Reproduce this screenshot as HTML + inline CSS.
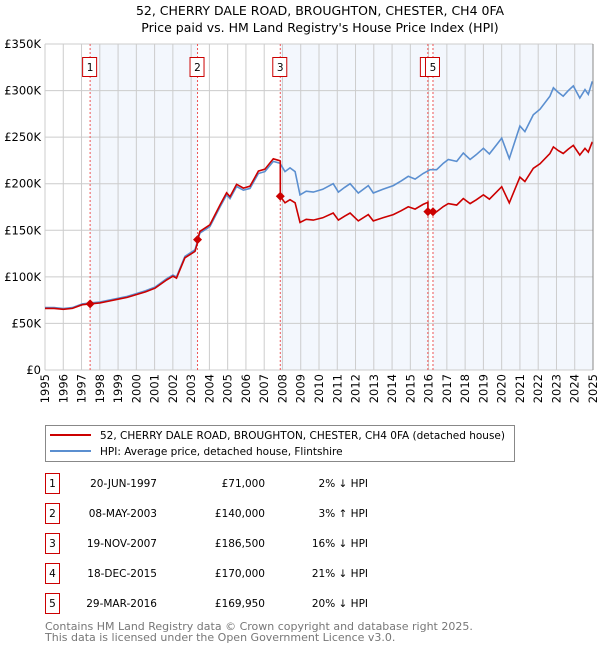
<!DOCTYPE html>
<html><head><meta charset="utf-8"><style>
body{margin:0;background:#fff;}
svg{display:block;font-family:"DejaVu Sans","Liberation Sans",sans-serif;}
</style></head><body>
<svg id="chart" width="600" height="650" xmlns="http://www.w3.org/2000/svg">
<text x="320" y="15" text-anchor="middle" font-size="12.5">52, CHERRY DALE ROAD, BROUGHTON, CHESTER, CH4 0FA</text>
<text x="320" y="32" text-anchor="middle" font-size="12.5">Price paid vs. HM Land Registry's House Price Index (HPI)</text>
<g id="bands"></g><g id="grid"></g><g id="vlines"></g><g id="series"></g><g id="axes"></g>
<g>
<rect x="45.5" y="425.5" width="469" height="36" fill="#fff" stroke="#888"/>
<line x1="50" y1="435" x2="91" y2="435" stroke="#cc0000" stroke-width="2"/>
<text x="100" y="439" font-size="10.5">52, CHERRY DALE ROAD, BROUGHTON, CHESTER, CH4 0FA (detached house)</text>
<line x1="50" y1="451" x2="91" y2="451" stroke="#5b8fd0" stroke-width="2"/>
<text x="100" y="455" font-size="10.5">HPI: Average price, detached house, Flintshire</text>
</g>
<g id="table" font-size="10.5"></g>
<text x="45" y="630" font-size="11" fill="#777">Contains HM Land Registry data © Crown copyright and database right 2025.</text>
<text x="45" y="641" font-size="11" fill="#777">This data is licensed under the Open Government Licence v3.0.</text>
</svg>
<script>
const hpiYears=[1995.0,1995.5,1996.0,1996.5,1997.04,1997.5,1998.0,1998.5,1999.0,1999.5,2000.0,2000.5,2001.02,2001.66,2002.0,2002.2,2002.66,2003.21,2003.48,2004.03,2004.58,2004.94,2005.13,2005.49,2005.86,2006.22,2006.68,2007.04,2007.5,2007.86,2008.14,2008.41,2008.69,2008.96,2009.3,2009.69,2010.2,2010.78,2011.06,2011.4,2011.7,2012.15,2012.7,2012.97,2013.5,2014.07,2014.5,2014.89,2015.26,2015.7,2016.08,2016.44,2016.81,2017.08,2017.54,2017.9,2018.27,2018.6,2019.0,2019.33,2019.73,2020.0,2020.42,2021.0,2021.27,2021.73,2022.1,2022.64,2022.83,2023.1,2023.37,2023.65,2023.92,2024.28,2024.56,2024.74,2024.96];
const hpiValues=[67,67,66,67,71,72,73,75,77,79,82,85,89,98,102,100,122,129,147,154,175,188,184,197,193,195,211,213,224,222,213,217,213,188,192,191,194,200,191,196,200,190,198,190,194,198,203,208,205,211,215,215,222,226,224,233,226,231,238,232,242,249,227,262,256,274,280,294,303,298,294,300,305,292,301,296,310];
const saleDates=[1997.47,2003.35,2007.88,2015.96,2016.24];
const salePrices=[71000,140000,186500,170000,169950];
const saleLabels=["1","2","3","4","5"];
const saleDateText=["20-JUN-1997","08-MAY-2003","19-NOV-2007","18-DEC-2015","29-MAR-2016"];
const salePriceText=["£71,000","£140,000","£186,500","£170,000","£169,950"];
const saleHpiText=["2% ↓ HPI","3% ↑ HPI","16% ↓ HPI","21% ↓ HPI","20% ↓ HPI"];
const yTicks=[0,50,100,150,200,250,300,350];
const yTickLabels=["£0","£50K","£100K","£150K","£200K","£250K","£300K","£350K"];
const xTicks=[1995,1996,1997,1998,1999,2000,2001,2002,2003,2004,2005,2006,2007,2008,2009,2010,2011,2012,2013,2014,2015,2016,2017,2018,2019,2020,2021,2022,2023,2024,2025];

const X0=45,X1=593,Y0=370,Y1=44;
const xs=y=>X0+(y-1995)/30*(X1-X0);
const ys=v=>Y0-v/350*(Y0-Y1);
const NS="http://www.w3.org/2000/svg";
function mk(tag,attrs,parent,text){const e=document.createElementNS(NS,tag);for(const k in attrs)e.setAttribute(k,attrs[k]);if(text!==undefined)e.textContent=text;parent.appendChild(e);return e;}
function hpiAt(t){for(let i=0;i<hpiYears.length-1;i++){if(t<=hpiYears[i+1]){const f=(t-hpiYears[i])/(hpiYears[i+1]-hpiYears[i]);return hpiValues[i]+f*(hpiValues[i+1]-hpiValues[i]);}}return hpiValues[hpiValues.length-1];}

const bands=document.getElementById('bands');
const bandPairs=[[0,1],[2,3],[4,null]];
bandPairs.forEach(p=>{const a=xs(saleDates[p[0]]);const b=p[1]===null?X1:xs(saleDates[p[1]]);
const r=mk('rect',{x:a,y:Y1,width:b-a,height:Y0-Y1,fill:'#eef3fc',opacity:0.7},bands);

});

const grid=document.getElementById('grid');
xTicks.forEach(t=>{const l=mk('line',{x1:xs(t),x2:xs(t),y1:Y1,y2:Y0,stroke:'#cccccc'},grid);

});
yTicks.forEach(t=>{const l=mk('line',{x1:X0,x2:X1,y1:ys(t),y2:ys(t),stroke:'#cccccc'},grid);

});

const vl=document.getElementById('vlines');
saleDates.forEach((d,i)=>{const x=xs(d);
const l=mk('line',{x1:x,x2:x,y1:Y1,y2:Y0,stroke:'#ee5555','stroke-dasharray':'2,2'},vl);


if(i===3)return;
const g=mk('g',{},vl);


if(i===4){mk('rect',{x:xs(saleDates[3])-7.5,y:57.5,width:14,height:19,fill:'#fff',stroke:'#cc0000'},g);}
mk('rect',{x:x-7.5,y:57.5,width:14,height:19,fill:'#fff',stroke:'#cc0000'},g);
mk('text',{x:x,y:71,'text-anchor':'middle','font-size':10.5},g,saleLabels[i]);});

const ser=document.getElementById('series');
let hp='';hpiYears.forEach((y,i)=>{hp+=(i?'L':'M')+xs(y).toFixed(1)+','+ys(hpiValues[i]).toFixed(1);});
const hl=mk('path',{d:hp,fill:'none',stroke:'#5b8fd0','stroke-width':1.6},ser);


// price-paid line: HPI indexed from the most recent sale
let rp='';let pts=[];
const ratioAt=t=>{let k=-1;for(let j=0;j<saleDates.length;j++)if(saleDates[j]<=t)k=j;const j=Math.max(k,0);return salePrices[j]/1000/hpiAt(saleDates[j]);};
hpiYears.forEach((y,i)=>{pts.push([y,hpiValues[i]*ratioAt(y)]);});
saleDates.forEach((d,j)=>{pts.push([d-1e-4,hpiAt(d)*ratioAt(d-1e-3)]);pts.push([d,salePrices[j]/1000]);});
pts.sort((a,b)=>a[0]-b[0]);
pts.forEach((p,i)=>{rp+=(i?'L':'M')+xs(p[0]).toFixed(1)+','+ys(p[1]).toFixed(1);});
const rl=mk('path',{d:rp,fill:'none',stroke:'#cc0000','stroke-width':1.6},ser);


saleDates.forEach((d,i)=>{const x=xs(d),y=ys(salePrices[i]/1000);
const m=mk('path',{d:`M${x-4.5},${y}L${x},${y-4.5}L${x+4.5},${y}L${x},${y+4.5}Z`,fill:'#cc0000'},ser);

});

const ax=document.getElementById('axes');
mk('line',{x1:X1,x2:X1,y1:Y1,y2:Y0,stroke:'#888'},ax);
yTicks.forEach((t,i)=>{const e=mk('text',{x:X0-4,y:ys(t)+4,'text-anchor':'end','font-size':11.5},ax,yTickLabels[i]);

});
xTicks.forEach(t=>{const x=xs(t);const e=mk('text',{x:x+4,y:374,'text-anchor':'end','font-size':11.5,transform:`rotate(-90 ${x+4} 374)`},ax,String(t));

});

const tb=document.getElementById('table');
saleLabels.forEach((s,i)=>{const cy=483+i*30;
const g=mk('g',{},tb);


mk('rect',{x:45.5,y:cy-9.5,width:14,height:20,fill:'#fff',stroke:'#cc0000'},g);
mk('text',{x:52.5,y:cy+4,'text-anchor':'middle'},g,s);
mk('text',{x:157,y:cy+4,'text-anchor':'end'},g,saleDateText[i]);
mk('text',{x:265,y:cy+4,'text-anchor':'end'},g,salePriceText[i]);
mk('text',{x:368,y:cy+4,'text-anchor':'end'},g,saleHpiText[i]);});
</script>
</body></html>
